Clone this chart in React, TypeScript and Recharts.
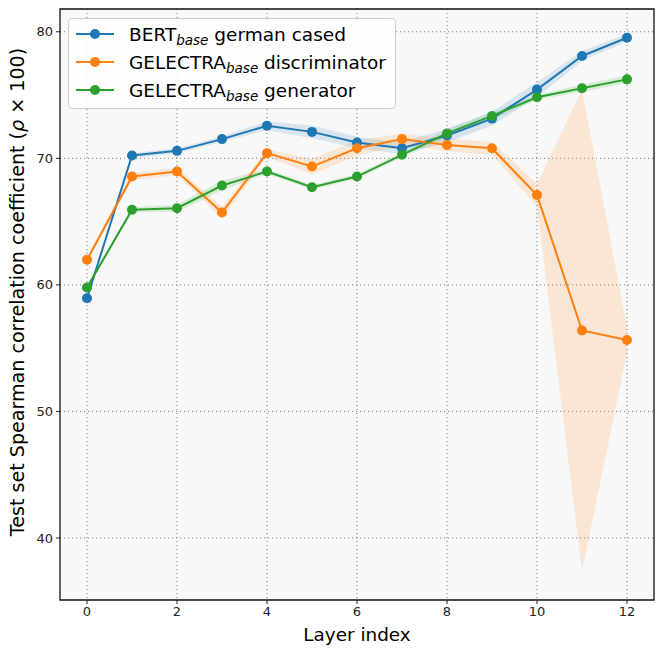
import React from 'react';
import {
  ComposedChart,
  Line,
  Area,
  XAxis,
  YAxis,
  CartesianGrid,
  ReferenceArea,
} from 'recharts';

// layer index on the x axis
const layers = [0, 1, 2, 3, 4, 5, 6, 7, 8, 9, 10, 11, 12];

// mean Spearman correlation (x100) per layer
const bertMean = [58.95, 70.22, 70.59, 71.52, 72.57, 72.09, 71.25, 70.8, 71.8, 73.14, 75.43, 78.09, 79.53];
const discMean = [61.98, 68.56, 68.96, 65.72, 70.41, 69.35, 70.8, 71.52, 71.05, 70.79, 67.1, 56.4, 55.65];
const genMean = [59.79, 65.93, 66.06, 67.85, 68.96, 67.72, 68.56, 70.28, 71.97, 73.35, 74.83, 75.54, 76.24];

// half-width of the shaded band per layer
const bertSpread = [0.2, 0.2, 0.2, 0.2, 0.35, 0.5, 0.45, 0.45, 0.55, 0.55, 0.6, 0.4, 0.3];
const discSpread = [0.2, 0.3, 0.3, 0.45, 0.3, 0.6, 0.6, 0.45, 0.5, 0.5, 0.9, 19.0, 1.0];
const genSpread = [0.2, 0.2, 0.3, 0.4, 0.2, 0.2, 0.2, 0.2, 0.3, 0.3, 0.2, 0.3, 0.3];

const xTicks = [0, 2, 4, 6, 8, 10, 12];
const yTicks = [40, 50, 60, 70, 80];

const BLUE = '#1f77b4';
const ORANGE = '#ff7f0e';
const GREEN = '#2ca02c';
const FONT = '"DejaVu Sans", sans-serif';
const LABEL_SIZE = 18.4;

const X_DOMAIN: [number, number] = [-0.6, 12.6];
const Y_DOMAIN: [number, number] = [35.1, 81.8];

const data = layers.map((layer, i) => ({
  layer,
  bert: bertMean[i],
  disc: discMean[i],
  gen: genMean[i],
  bertBand: [bertMean[i] - bertSpread[i], bertMean[i] + bertSpread[i]],
  discBand: [discMean[i] - discSpread[i], discMean[i] + discSpread[i]],
  genBand: [genMean[i] - genSpread[i], genMean[i] + genSpread[i]],
}));

const legendItems = [
  { color: BLUE, head: 'BERT', tail: ' german cased' },
  { color: ORANGE, head: 'GELECTRA', tail: ' discriminator' },
  { color: GREEN, head: 'GELECTRA', tail: ' generator' },
];

const ChartLegend = () => (
  <svg
    width={330}
    height={92}
    style={{ position: 'absolute', left: 68, top: 18, overflow: 'visible' }}
  >
    <rect x={0.5} y={0.5} width={327} height={90} rx={4} fill="rgba(255,255,255,0.85)" stroke="#cccccc" />
    {legendItems.map((item, i) => {
      const cy = 16 + i * 28;
      return (
        <g key={item.tail}>
          <line x1={8} x2={46} y1={cy} y2={cy} stroke={item.color} strokeWidth={2} />
          <circle cx={27} cy={cy} r={5} fill={item.color} />
          <text x={61} y={cy + 6.5} fontFamily={FONT} fontSize={18.5} fill="#000">
            {item.head}
            <tspan fontStyle="italic" fontSize={13.5} dy={4}>base</tspan>
            <tspan dy={-4}>{item.tail}</tspan>
          </text>
        </g>
      );
    })}
  </svg>
);

export default function App() {
  return (
    <div style={{ position: 'absolute', left: 0, top: 0, width: 664, height: 655, background: '#fff' }}>
      <ComposedChart
        width={664}
        height={655}
        data={data}
        margin={{ top: 9, right: 10, left: 0, bottom: 0 }}
      >
        <CartesianGrid
          fill="#f8f8f8"
          stroke="#777"
          strokeDasharray="1 3"
          horizontalValues={yTicks}
          verticalValues={xTicks}
        />
        <XAxis
          dataKey="layer"
          type="number"
          domain={X_DOMAIN}
          ticks={xTicks}
          height={55}
          axisLine={false}
          tickLine={{ stroke: '#222' }}
          tickSize={4}
          tickMargin={3}
          tick={{ fontFamily: FONT, fontSize: 13, fill: '#222' }}
          label={(props: any) => {
            const vb = props.viewBox || {};
            const cx = (vb.x ?? 60) + (vb.width ?? 594) / 2;
            return (
              <text x={cx} y={641} textAnchor="middle" fontFamily={FONT} fontSize={LABEL_SIZE} fill="#000">
                Layer index
              </text>
            );
          }}
        />
        <YAxis
          type="number"
          domain={Y_DOMAIN}
          ticks={yTicks}
          width={60}
          allowDataOverflow
          axisLine={false}
          tickLine={{ stroke: '#222' }}
          tickSize={4}
          tickMargin={3}
          tick={{ fontFamily: FONT, fontSize: 13, fill: '#222' }}
          label={() => {
            const cy = 292;
            return (
              <text
                x={17}
                y={cy}
                transform={`rotate(-90, 17, ${cy})`}
                textAnchor="middle"
                dominantBaseline="central"
                fontFamily={FONT}
                fontSize={19.1}
                fill="#000"
              >
                Test set Spearman correlation coefficient (
                <tspan fontStyle="italic">ρ</tspan> × 100)
              </text>
            );
          }}
        />
        <Area dataKey="bertBand" type="linear" stroke="none" fill={BLUE} fillOpacity={0.15} isAnimationActive={false} activeDot={false} />
        <Area dataKey="discBand" type="linear" stroke="none" fill={ORANGE} fillOpacity={0.15} isAnimationActive={false} activeDot={false} />
        <Area dataKey="genBand" type="linear" stroke="none" fill={GREEN} fillOpacity={0.15} isAnimationActive={false} activeDot={false} />
        <Line dataKey="bert" type="linear" stroke={BLUE} strokeWidth={2} dot={{ r: 5, fill: BLUE, stroke: BLUE, strokeWidth: 0 }} isAnimationActive={false} />
        <Line dataKey="disc" type="linear" stroke={ORANGE} strokeWidth={2} dot={{ r: 5, fill: ORANGE, stroke: ORANGE, strokeWidth: 0 }} isAnimationActive={false} />
        <Line dataKey="gen" type="linear" stroke={GREEN} strokeWidth={2} dot={{ r: 5, fill: GREEN, stroke: GREEN, strokeWidth: 0 }} isAnimationActive={false} />
        <ReferenceArea
          x1={X_DOMAIN[0]}
          x2={X_DOMAIN[1]}
          y1={Y_DOMAIN[0]}
          y2={Y_DOMAIN[1]}
          fill="none"
          stroke="#111"
          strokeWidth={1.3}
          ifOverflow="visible"
        />
      </ComposedChart>
      <ChartLegend />
    </div>
  );
}
